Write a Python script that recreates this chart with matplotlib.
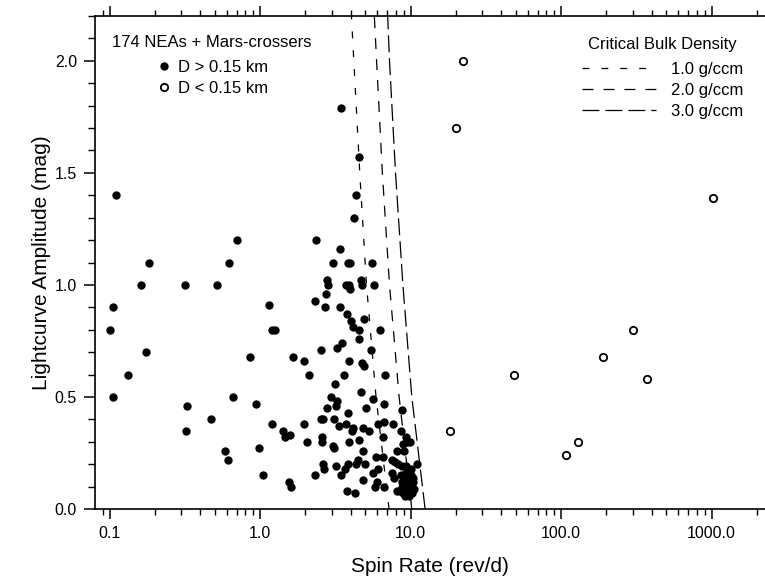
import matplotlib
matplotlib.use("Agg")
import matplotlib.pyplot as plt
from matplotlib.ticker import FixedLocator, FixedFormatter, MultipleLocator, LogLocator, NullFormatter

plt.rcParams['font.family'] = ['Liberation Sans', 'DejaVu Sans']
plt.rcParams['lines.scale_dashes'] = False

# D > 0.15 km (filled)
big_rate = [0.110, 0.703, 0.183, 0.622, 0.162, 0.318, 0.518, 0.105, 1.15, 0.101, 1.20, 1.26, 0.175,
            0.86, 0.133, 0.105, 0.662, 0.327, 0.94, 0.472, 0.322, 1.20, 0.585, 0.614, 0.985, 1.05,
            3.45, 4.53, 4.34, 4.21, 2.34, 3.40, 3.07, 3.83, 3.96, 5.58, 2.77, 2.84, 3.71, 3.90, 3.96,
            4.67, 4.76, 5.75, 2.75, 2.32, 2.72, 3.42, 3.80, 4.89, 4.01, 4.13, 4.53, 6.27, 4.53, 3.51,
            3.26, 2.54, 5.44,
            1.66, 1.96, 3.90, 4.74, 4.91, 2.13, 3.62, 6.77, 3.17, 4.71, 2.95, 3.23, 3.20, 5.61, 6.63,
            2.80, 5.04, 3.86, 8.74, 2.54, 2.62, 3.10, 1.96, 3.73, 3.37, 4.86, 5.32, 4.17, 4.07, 6.11,
            6.67, 7.69, 1.43, 1.47, 1.58, 8.61, 2.06, 2.57, 2.57, 3.92, 4.55, 6.59, 9.29, 9.44, 9.93,
            8.96, 3.07, 3.12, 8.10, 9.06, 4.81, 5.90, 6.53, 4.46, 4.34, 3.86, 4.98, 7.50, 7.89, 8.29,
            8.74, 9.34, 10.03, 11.1, 2.63, 2.66, 3.18, 3.67, 6.05, 5.66, 7.50, 7.77, 8.64, 10.34, 2.32,
            3.45, 4.81, 6.02, 5.84, 6.67, 1.57, 1.60, 3.77, 4.28,
            8.17, 8.74, 9.19, 9.67, 10.19, 9.44, 8.96, 9.93, 9.19, 10.44, 9.67, 8.51,
            9.5, 10.1, 9.0, 9.8, 10.6, 8.8, 9.3, 10.3, 9.6]
big_amp = [1.40, 1.20, 1.10, 1.10, 1.00, 1.00, 1.00, 0.90, 0.91, 0.80, 0.80, 0.80, 0.70,
           0.68, 0.60, 0.50, 0.50, 0.46, 0.47, 0.40, 0.35, 0.38, 0.26, 0.22, 0.27, 0.15,
           1.79, 1.57, 1.40, 1.30, 1.20, 1.16, 1.10, 1.10, 1.10, 1.10, 1.02, 1.00, 1.00, 1.00, 0.98,
           1.02, 1.00, 1.00, 0.96, 0.93, 0.90, 0.90, 0.87, 0.85, 0.84, 0.81, 0.80, 0.80, 0.76, 0.74,
           0.72, 0.71, 0.71,
           0.68, 0.66, 0.66, 0.65, 0.64, 0.60, 0.60, 0.60, 0.56, 0.52, 0.50, 0.48, 0.46, 0.49, 0.47,
           0.45, 0.45, 0.43, 0.44, 0.40, 0.40, 0.40, 0.38, 0.38, 0.37, 0.36, 0.35, 0.36, 0.35, 0.38,
           0.39, 0.38, 0.35, 0.32, 0.33, 0.35, 0.30, 0.32, 0.30, 0.30, 0.31, 0.32, 0.32, 0.30, 0.30,
           0.29, 0.28, 0.27, 0.26, 0.26, 0.26, 0.23, 0.23, 0.22, 0.20, 0.20, 0.20, 0.22, 0.21, 0.20,
           0.19, 0.19, 0.18, 0.20, 0.20, 0.18, 0.19, 0.18, 0.18, 0.16, 0.16, 0.14, 0.15, 0.14, 0.15,
           0.15, 0.13, 0.12, 0.10, 0.10, 0.12, 0.10, 0.08, 0.07,
           0.08, 0.10, 0.11, 0.12, 0.10, 0.08, 0.07, 0.08, 0.06, 0.12, 0.10, 0.08,
           0.13, 0.15, 0.14, 0.06, 0.09, 0.12, 0.16, 0.07, 0.18]

# D < 0.15 km (open)
small_rate = [22.3, 20.0, 1023, 301, 190, 48.7, 373, 18.3, 130, 108]
small_amp = [2.00, 1.70, 1.39, 0.80, 0.68, 0.60, 0.58, 0.35, 0.30, 0.24]

# critical spin rate for bulk density
crit_amp = [0.0, 0.5, 1.0, 1.5, 2.0, 2.2]
rate_1 = [7.2, 5.9, 5.1, 4.6, 4.2, 4.05]
rate_2 = [10.2, 8.4, 7.25, 6.5, 5.95, 5.75]
rate_3 = [12.5, 10.2, 8.9, 7.95, 7.25, 7.05]

fig = plt.figure(figsize=(7.65, 5.76), dpi=100)
ax = fig.add_axes([95/765, 67/576, 670/765, 493/576])

l1, = ax.plot(rate_1, crit_amp, color='k', lw=0.9, linestyle=(0, (5, 8.6)))
l2, = ax.plot(rate_2, crit_amp, color='k', lw=0.9, linestyle=(0, (7.9, 7.2)))
l3, = ax.plot(rate_3, crit_amp, color='k', lw=0.9, linestyle=(0, (12.2, 4.3)))

h1, = ax.plot(big_rate, big_amp, 'o', color='k', ms=6, mew=0)
h2, = ax.plot(small_rate, small_amp, 'o', mfc='white', mec='k', ms=5.3, mew=1.3)

ax.set_xscale('log')
ax.set_xlim(0.0801, 2266)
ax.set_ylim(0, 2.2)

ax.xaxis.set_major_locator(FixedLocator([0.1, 1, 10, 100, 1000]))
ax.xaxis.set_major_formatter(FixedFormatter(['0.1', '1.0', '10.0', '100.0', '1000.0']))
ax.xaxis.set_minor_locator(LogLocator(base=10, subs=range(2, 10), numticks=20))
ax.xaxis.set_minor_formatter(NullFormatter())
ax.yaxis.set_major_locator(FixedLocator([0, 0.5, 1.0, 1.5, 2.0]))
ax.yaxis.set_major_formatter(FixedFormatter(['0.0', '0.5', '1.0', '1.5', '2.0']))
ax.yaxis.set_minor_locator(MultipleLocator(0.1))

ax.spines['right'].set_visible(False)
for s in ['left', 'bottom', 'top']:
    ax.spines[s].set_linewidth(1.2)
ax.tick_params(which='major', direction='out', length=7, width=1.1, labelsize=11.5, top=True, right=False, pad=5)
ax.tick_params(which='minor', direction='out', length=4, width=1.0, top=True, right=False)
ax.tick_params(axis='y', which='minor', length=5)
ax.tick_params(axis='y', which='major', length=8)

ax.set_xlabel('Spin Rate (rev/d)', fontsize=15, labelpad=12)
ax.set_ylabel('Lightcurve Amplitude (mag)', fontsize=15, labelpad=3)

leg1 = ax.legend([h1, h2], ['D > 0.15 km', 'D < 0.15 km'], title='174 NEAs + Mars-crossers',
                 loc='upper left', bbox_to_anchor=(0.025, 0.962), frameon=False, fontsize=12,
                 title_fontsize=12, handlelength=1, handletextpad=0.35, labelspacing=0.36,
                 borderpad=0, borderaxespad=0)
leg1._legend_box.sep = 0.36 * 12 + 3
ax.add_artist(leg1)
leg2 = ax.legend([l1, l2, l3], ['1.0 g/ccm', '2.0 g/ccm', '3.0 g/ccm'], title='Critical Bulk Density',
                 loc='upper right', bbox_to_anchor=(0.967, 0.958), frameon=False, fontsize=12,
                 title_fontsize=12, handlelength=4.4, handletextpad=0.9, labelspacing=0.36,
                 borderpad=0, borderaxespad=0)
leg2._legend_box.sep = 0.36 * 12 + 3

fig.savefig('out.png', dpi=100)
